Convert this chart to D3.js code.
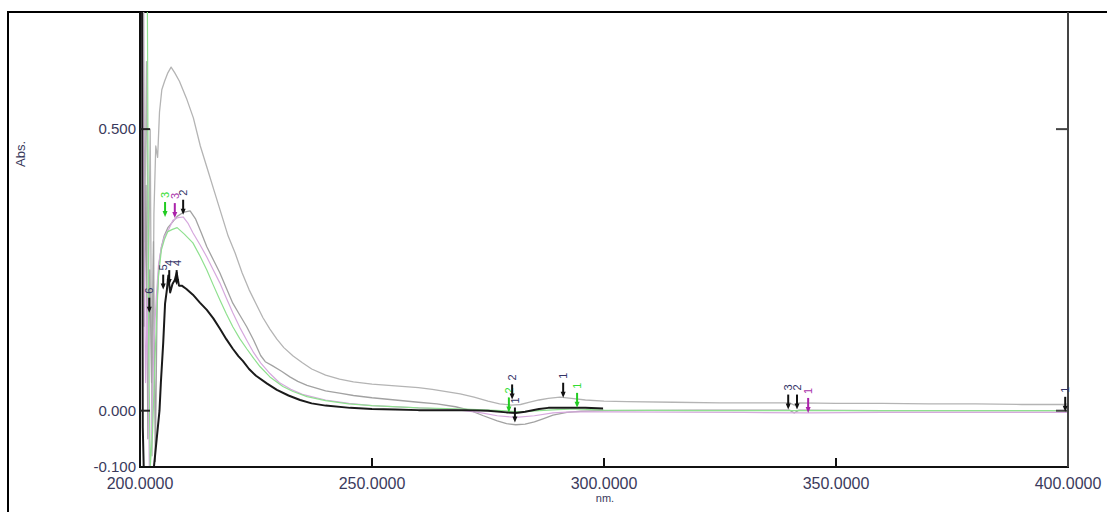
<!DOCTYPE html>
<html>
<head>
    <meta charset="utf-8" />
    <title></title>
    <style>
        body { margin: 0; background: #fff; }
        text { font-family: "Liberation Sans", Arial, sans-serif; }
    </style>
</head>
<body>
    <div id="chart"></div>
    <script src="https://cdn.jsdelivr.net/npm/d3@7/dist/d3.min.js"></script>
    <script>
        // spectra as [nm, Abs]
        var upperGray = [[200,0.9],[200.7,0.9],[201.0,0.3],[201.4,0.62],[201.8,0.2],[202.2,0.5],[202.6,-0.08],[203.0,0.35],[203.4,0.47],[203.8,0.45],[204.2,0.53],[204.7,0.57],[205.3,0.585],[206.0,0.6],[206.7,0.61],[207.5,0.6],[208.5,0.585],[210,0.555],[211.5,0.52],[213,0.47],[214.5,0.43],[216,0.39],[217.5,0.35],[219,0.31],[220.5,0.28],[222,0.245],[223.5,0.215],[225,0.19],[226.5,0.165],[228,0.145],[229.5,0.127],[231,0.112],[233,0.097],[235,0.085],[237,0.074],[240,0.063],[243,0.056],[246,0.051],[250,0.047],[255,0.044],[260,0.041],[263,0.038],[266,0.034],[269,0.03],[272,0.024],[275,0.017],[277.5,0.012],[280,0.01],[282,0.011],[284,0.015],[286,0.019],[288,0.022],[290.5,0.024],[293,0.022],[296,0.019],[300,0.017],[305,0.016],[315,0.015],[325,0.014],[340,0.014],[341,0.01],[342,0.014],[350,0.013],[360,0.013],[370,0.012],[380,0.012],[390,0.011],[399,0.011],[400,0.012]];
        var middleGray = [[200,0.9],[200.5,0.9],[200.9,0.15],[201.3,0.4],[201.7,-0.05],[202.1,0.25],[202.5,0.05],[202.9,0.3],[203.3,-0.09],[203.7,0.2],[204.1,0.26],[204.6,0.29],[205.2,0.31],[206,0.325],[207,0.335],[208,0.345],[209.3,0.352],[210.8,0.355],[212,0.34],[213.2,0.316],[214.4,0.291],[215.8,0.268],[217.2,0.245],[218.6,0.218],[220,0.191],[221.5,0.17],[223,0.149],[224.5,0.125],[226,0.098],[227,0.087],[228.5,0.08],[230.5,0.07],[232.3,0.06],[234,0.052],[236,0.045],[238,0.04],[240,0.035],[243,0.031],[246,0.027],[250,0.023],[255,0.019],[260,0.015],[264,0.012],[268,0.007],[271,0.001],[274,-0.009],[277,-0.018],[279,-0.023],[281,-0.025],[283,-0.024],[285,-0.02],[287,-0.014],[289,-0.008],[292,-0.003],[295,-0.001],[300,0.0],[320,0.001],[340,0.001],[341,-0.004],[342,0.001],[360,0.0],[380,0.0],[400,0.0]];
        var purple = [[200,0.9],[200.4,0.9],[200.8,0.35],[201.2,0.05],[201.6,0.2],[202,-0.1],[202.5,-0.05],[203,0.12],[203.5,0.2],[204,0.26],[204.6,0.29],[205.3,0.31],[206.2,0.322],[207.1,0.338],[208.2,0.343],[209.3,0.344],[210.4,0.332],[211.4,0.316],[212.9,0.295],[214.4,0.273],[215.8,0.25],[217.2,0.227],[218.6,0.2],[220,0.174],[221.5,0.148],[223,0.125],[224.5,0.103],[226,0.085],[228,0.066],[230,0.05],[232.5,0.038],[235,0.029],[240,0.019],[245,0.013],[250,0.009],[260,0.005],[268,0.002],[273,-0.003],[277,-0.009],[281,-0.012],[285,-0.009],[289,-0.004],[293,-0.002],[300,-0.002],[330,-0.003],[344,-0.004],[360,-0.003],[400,-0.003]];
        var green = [[200,0.9],[201.5,0.9],[201.9,0.1],[202.2,-0.1],[202.7,-0.04],[203.1,0.06],[203.5,0.15],[204,0.24],[204.6,0.285],[205.3,0.305],[206,0.318],[207,0.322],[208,0.325],[209.5,0.314],[211.4,0.298],[212.9,0.275],[214.4,0.25],[215.8,0.223],[217.2,0.197],[218.6,0.172],[220,0.149],[221.5,0.128],[223,0.11],[224.5,0.093],[225.9,0.078],[228,0.06],[230.8,0.043],[233,0.034],[236,0.025],[240,0.018],[245,0.012],[250,0.009],[260,0.005],[270,0.003],[278,0.0],[282,-0.002],[286,0.0],[290,0.002],[294,0.003],[300,0.001],[320,0.0],[350,0.0],[380,0.0],[400,0.0]];
        var black = [[200,0.9],[200.4,0.9],[200.6,-0.03],[200.8,-0.1],[202,-0.1],[203,-0.1],[203.6,-0.05],[204.2,0.0],[204.5,0.05],[205,0.12],[205.4,0.19],[205.8,0.215],[206.1,0.24],[206.5,0.21],[207,0.225],[207.5,0.232],[207.9,0.245],[208.4,0.222],[209,0.222],[210,0.216],[211.4,0.206],[212.9,0.192],[214.4,0.179],[215.8,0.164],[217.2,0.146],[218.6,0.127],[220,0.11],[221.2,0.097],[222.2,0.088],[223.5,0.074],[225,0.062],[227.4,0.048],[229.5,0.037],[232,0.027],[234.5,0.019],[237,0.013],[240,0.009],[245.3,0.005],[250,0.003],[255,0.002],[260,0.001],[270,0.001],[275,0.0],[279,-0.003],[281,-0.004],[283,-0.002],[286,0.003],[288,0.005],[292,0.005],[296,0.005],[299.8,0.004]];

        // peak picks: nm, Abs at arrow tip, label, colour key
        var peakNm = [202.0, 205.0, 206.3, 207.9, 205.4, 207.5, 209.3, 279.5, 280.2, 280.8, 291.2, 294.2, 339.7, 341.6, 344.0, 399.4];
        var peakAbs = [0.174, 0.215, 0.223, 0.223, 0.344, 0.342, 0.348, -0.003, 0.02, -0.021, 0.023, 0.005, 0.002, 0.002, -0.004, -0.002];
        var peakLabel = ["6", "5", "4", "4", "3", "3", "2", "2", "2", "1", "1", "1", "3", "2", "1", "1"];
        var peakKey = ["k", "k", "k", "k", "g", "p", "k", "g", "k", "k", "k", "g", "k", "k", "p", "k"];

        var xTicks = [200, 250, 300, 350, 400];
        var xTickLabels = ["200.0000", "250.0000", "300.0000", "350.0000", "400.0000"];
        var yTicks = [-0.1, 0, 0.5];
        var yTickLabels = ["-0.100", "0.000", "0.500"];

        var W = 1107, H = 512;
        var pLeft = 140, pRight = 1068, pTop = 12, pBottom = 467;

        var x = d3.scaleLinear().domain([200, 400]).range([pLeft, pRight]);
        var y = d3.scaleLinear().domain([-0.1, 0.708]).range([pBottom, pTop]);

        var svg = d3.select("#chart").append("svg")
            .attr("width", W).attr("height", H);

        svg.append("defs").append("clipPath").attr("id", "plot")
            .append("rect").attr("x", pLeft).attr("y", pTop)
            .attr("width", pRight - pLeft).attr("height", pBottom - pTop);

        // outer frame
        svg.append("rect").attr("x", 8).attr("y", 12).attr("width", 1110).attr("height", 510)
            .attr("fill", "none").attr("stroke", "#000").attr("stroke-width", 2);

        var line = d3.line().x(d => x(d[0])).y(d => y(d[1]));

        var series = [
            { data: upperGray, color: "#b4b4b4", w: 1.3 },
            { data: middleGray, color: "#a2a2a2", w: 1.3 },
            { data: purple, color: "#d6a8de", w: 1.2 },
            { data: green, color: "#8fe08f", w: 1.2 },
            { data: black, color: "#1a1a1a", w: 2 }
        ];

        svg.append("g").attr("clip-path", "url(#plot)")
            .selectAll("path").data(series).join("path")
            .attr("d", d => line(d.data))
            .attr("fill", "none")
            .attr("stroke", d => d.color)
            .attr("stroke-width", d => d.w)
            .attr("stroke-linejoin", "round");

        // axes
        var ax = svg.append("g").attr("stroke-width", 2);
        ax.append("line").attr("x1", pLeft).attr("x2", pLeft).attr("y1", pTop).attr("y2", pBottom).attr("stroke", "#111");
        ax.append("line").attr("x1", pLeft - 1).attr("x2", pRight + 1).attr("y1", pBottom).attr("y2", pBottom).attr("stroke", "#111");
        ax.append("line").attr("x1", pRight).attr("x2", pRight).attr("y1", pTop).attr("y2", pBottom).attr("stroke", "#444");

        ax.selectAll(".xt").data(xTicks.slice(1, -1)).join("line")
            .attr("x1", d => x(d)).attr("x2", d => x(d))
            .attr("y1", pBottom).attr("y2", pBottom - 9).attr("stroke", "#111");
        ax.selectAll(".yl").data(yTicks.slice(1)).join("line")
            .attr("x1", pLeft).attr("x2", pLeft + 10)
            .attr("y1", d => y(d)).attr("y2", d => y(d)).attr("stroke", "#222");
        ax.selectAll(".yr").data(yTicks.slice(1)).join("line")
            .attr("x1", pRight).attr("x2", pRight - 12)
            .attr("y1", d => y(d)).attr("y2", d => y(d)).attr("stroke", "#444");

        var txt = "#3a3a5c";
        svg.append("g").selectAll("text").data(yTicks).join("text")
            .attr("x", pLeft - 4).attr("y", d => y(d)).attr("dy", "0.33em")
            .attr("text-anchor", "end").attr("font-size", 15).attr("fill", txt)
            .text((d, i) => yTickLabels[i]);
        svg.append("g").selectAll("text").data(xTicks).join("text")
            .attr("x", d => x(d)).attr("y", pBottom + 22)
            .attr("text-anchor", "middle").attr("font-size", 16).attr("fill", txt)
            .text((d, i) => xTickLabels[i]);

        svg.append("text").attr("x", (pLeft + pRight) / 2 + 1).attr("y", pBottom + 35)
            .attr("text-anchor", "middle").attr("font-size", 11).attr("fill", txt).text("nm.");
        svg.append("text").attr("transform", "translate(25,154) rotate(-90)")
            .attr("text-anchor", "middle").attr("font-size", 13).attr("fill", txt).text("Abs.");

        // peak pick arrows
        var arrowCol = { k: "#111", g: "#22cc22", p: "#aa22aa" };
        var labelCol = { k: "#333366", g: "#33dd33", p: "#aa33aa" };
        var pk = svg.append("g").selectAll("g").data(peakNm).join("g")
            .attr("transform", (d, i) => `translate(${x(d)},${y(peakAbs[i])})`);
        pk.append("line").attr("x1", 0).attr("x2", 0).attr("y1", -15).attr("y2", -3)
            .attr("stroke", (d, i) => arrowCol[peakKey[i]]).attr("stroke-width", 2);
        pk.append("path").attr("d", "M-2.5,-6L2.5,-6L0,0Z")
            .attr("fill", (d, i) => arrowCol[peakKey[i]]);
        pk.append("text").attr("transform", "translate(4,-19) rotate(-90)")
            .attr("font-size", 11).attr("fill", (d, i) => labelCol[peakKey[i]])
            .text((d, i) => peakLabel[i]);
    </script>
</body>
</html>
